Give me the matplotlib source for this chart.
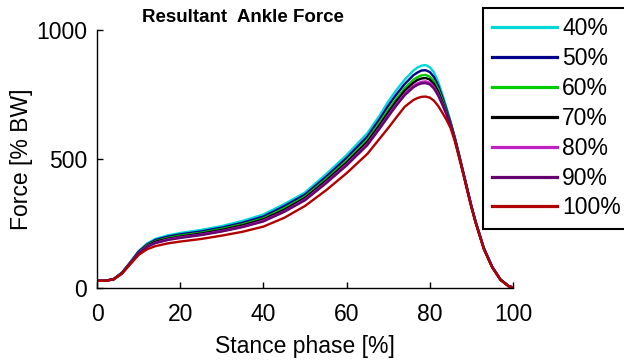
#!/usr/bin/env python3
"""Resultant ankle force over stance phase for several speed levels."""

import matplotlib
matplotlib.use('Agg')
import matplotlib.pyplot as plt

# Stance phase [%]
stance = [0, 2, 4, 6, 8, 10, 12, 14, 17, 20, 25, 30, 35, 40, 45, 50, 55, 60,
          65, 68, 70, 72, 74, 76, 77, 78, 79, 80, 81, 82, 83, 84, 85, 86, 87,
          88, 89, 90, 91, 93, 95, 97, 99, 100]

# Force [% BW]
force_40 = [28, 28, 35, 60, 100, 143, 172, 190, 204, 213, 225, 240, 260, 285,
            325, 370, 440, 515,
            600, 670, 722, 768, 808, 842, 854, 862, 864, 856, 836, 800, 752,
            700, 645, 585, 520, 452, 385, 318, 258, 155, 82, 33, 7, 2]
force_50 = [28, 28, 35, 59, 99, 141, 168, 186, 199, 208, 219, 234, 253, 277,
            317, 362, 430, 504,
            587, 656, 706, 751, 791, 824, 835, 843, 844, 837, 818, 785, 740,
            692, 641, 583, 518, 451, 384, 317, 257, 154, 82, 33, 7, 2]
force_60 = [28, 28, 34, 58, 98, 138, 165, 181, 194, 203, 214, 229, 247, 270,
            309, 354, 421, 493,
            575, 642, 690, 735, 775, 807, 817, 824, 826, 819, 802, 771, 730,
            685, 637, 580, 516, 450, 383, 316, 257, 153, 81, 32, 7, 2]
force_70 = [28, 28, 34, 58, 97, 137, 163, 179, 191, 199, 211, 225, 243, 266,
            303, 349, 415, 486,
            567, 633, 680, 725, 765, 795, 806, 812, 814, 808, 791, 761, 722,
            680, 635, 579, 515, 449, 382, 316, 256, 153, 81, 32, 7, 2]
force_80 = [28, 28, 34, 57, 96, 135, 161, 175, 188, 196, 207, 221, 238, 261,
            297, 343, 408, 479,
            558, 623, 669, 713, 753, 783, 793, 799, 801, 795, 779, 751, 715,
            675, 632, 577, 514, 448, 381, 315, 256, 152, 81, 32, 6, 2]
force_90 = [28, 28, 34, 57, 95, 134, 159, 174, 186, 194, 205, 219, 236, 258,
            295, 340, 405, 475,
            554, 619, 664, 708, 748, 777, 787, 793, 794, 789, 773, 746, 711,
            673, 631, 576, 513, 447, 381, 315, 256, 152, 81, 32, 6, 2]
force_100 = [28, 28, 33, 55, 92, 128, 150, 162, 173, 180, 190, 203, 218, 238,
             272, 318, 378, 445,
             520, 580, 620, 662, 703, 728, 736, 741, 742, 738, 726, 706, 680,
             652, 620, 570, 508, 444, 378, 313, 254, 150, 80, 31, 6, 2]

labels = ['40%', '50%', '60%', '70%', '80%', '90%', '100%']
series = [force_40, force_50, force_60, force_70, force_80, force_90, force_100]
colors = ['#00D8D8', '#000088', '#00CC00', '#000000', '#C020C0', '#640070',
          '#B00000']

plt.rcParams['font.family'] = ['Liberation Sans', 'DejaVu Sans']

fig = plt.figure(figsize=(6.24, 3.6), dpi=100)
ax = fig.add_axes([97 / 624, 1 - 288 / 360, 416 / 624, 258 / 360])

handles = []
for lab, ys, col in zip(labels, series, colors):
    h, = ax.plot(stance, ys, color=col, linewidth=1.7, label=lab)
    handles.append(h)

ax.set_xlim(0, 100)
ax.set_ylim(0, 1000)
ax.set_xticks([0, 20, 40, 60, 80, 100])
ax.set_yticks([0, 500, 1000])
ax.tick_params(direction='in', length=4, width=1, labelsize=16.5)
ax.tick_params(axis='x', pad=10.5)
ax.tick_params(axis='y', pad=7)
for side in ['top', 'right']:
    ax.spines[side].set_visible(False)
for side in ['left', 'bottom']:
    ax.spines[side].set_linewidth(1)

ax.set_xlabel('Stance phase [%]', fontsize=16.5, labelpad=7)
ax.set_ylabel('Force [% BW]', fontsize=16.5, labelpad=2)
fig.text(243 / 624, 1 - 18 / 360, 'Resultant  Ankle Force', fontsize=13.5,
         fontweight='bold', ha='center', va='center')

leg = fig.legend(handles, labels, loc='upper left',
                 bbox_to_anchor=(483 / 624, 1 - 8 / 360), fontsize=16.5,
                 handlelength=2.85, handletextpad=0.2, labelspacing=0.3,
                 borderpad=0.4, borderaxespad=0, fancybox=False,
                 framealpha=1, edgecolor='black')
leg.get_frame().set_linewidth(1.5)
for line in leg.get_lines():
    line.set_linewidth(2.3)

fig.savefig('out.png', dpi=100)
plt.close(fig)
